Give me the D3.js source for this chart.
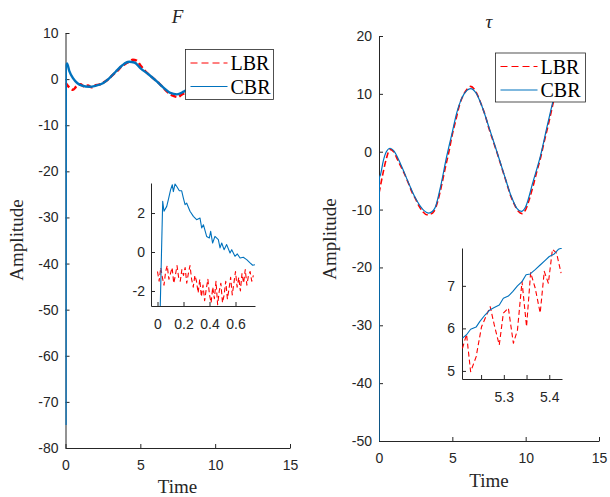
<!DOCTYPE html>
<html lang="en">
<head>
<meta charset="UTF-8">
<title>F and tau, LBR vs CBR</title>
<script src="https://d3js.org/d3.v7.min.js"></script>
<style>
    body { margin: 0; background: #fff; }
    .tick text { font-family: "Liberation Sans", Arial, sans-serif; font-size: 14px; fill: #262626; }
    .tick line, .domain { stroke: #262626; }
    .lbl { font-family: "Liberation Serif", serif; font-size: 19px; fill: #262626; }
    .leg { font-family: "Liberation Serif", serif; font-size: 20px; fill: #000; }
</style>
</head>
<body>
<svg width="610" height="497"></svg>
<script>
    // ---- F panel (main axes) ----
    const fTimeCBR = [0, 0.02, 0.1, 0.25, 0.5, 0.8, 1.1, 1.6, 2.0, 2.5, 2.9, 3.35, 3.8, 4.25, 4.6,
        5.0, 5.6, 6.1, 6.6, 7.0, 7.45, 7.9, 8.5, 9, 9.5, 10, 10.5, 11, 11.5, 12, 12.5];
    const fCBR = [-75, 2.6, 3.4, 1.8, 0.2, -0.9, -1.4, -1.65, -1.45, -0.9, 0.1, 1.6, 3.0, 3.75, 3.6,
        2.4, 0.9, -0.5, -2.0, -3.0, -3.3, -2.7, -1.5, 0.2, 1.8, 2.8, 3.2, 2.6, 1.2, -0.5, -1.8];
    // LBR sampled every 0.25 s
    const fLBR = [-0.8, -1.8, -2.3, -1.5, -1.1, -1.6, -1.4, -1.8, -1.3, -1.2, -0.8, -0.3, 0.4, 1.2, 1.9,
        2.8, 3.3, 3.8, 4.2, 4.0, 3.0, 2.0, 1.2, 0.5, -0.2, -0.9, -1.8, -2.6, -3.3, -3.7, -3.9, -3.4, -2.9,
        -2.3, -1.6, -0.8, 0.0, 0.8, 1.6, 2.2, 2.7, 3.0, 3.1, 2.9, 2.4, 1.8, 1.0, 0.2, -0.6, -1.3, -1.9];

    // ---- F panel (inset, first 0.75 s) ----
    const fInTimeCBR = [0.017, 0.04, 0.05, 0.071, 0.083, 0.101, 0.114, 0.122, 0.135, 0.147, 0.168, 0.186,
        0.199, 0.212, 0.224, 0.25, 0.276, 0.301, 0.327, 0.34, 0.353, 0.378, 0.399, 0.409, 0.424, 0.442,
        0.468, 0.481, 0.494, 0.512, 0.532, 0.558, 0.571, 0.596, 0.614, 0.635, 0.66, 0.686, 0.712, 0.732, 0.75];
    const fInCBR = [-4, 2.6, 2.09, 2.34, 2.68, 3.2, 3.45, 3.1, 3.49, 3.37, 3.14, 3.14,
        2.77, 2.43, 2.51, 2.09, 1.83, 1.66, 1.74, 1.23, 1.4, 0.8, 0.72, 1.06, 0.46, 0.8,
        0.63, 0.21, 0.46, 0.12, 0.38, -0.05, 0.12, -0.22, -0.1, -0.31, -0.27, -0.39, -0.56, -0.68, -0.65];
    // LBR sampled every 0.0125 s
    const fInLBR = [-1.0, -1.5, -0.8, -1.3, -1.7, -1.0, -0.7, -1.4, -1.1, -0.8, -1.6, -1.2, -0.7, -1.3,
        -1.5, -0.9, -1.2, -0.8, -1.6, -1.1, -0.7, -1.4, -1.8, -1.2,
        -1.5, -2.1, -1.4, -2.3, -1.7, -2.5, -1.9, -1.4, -2.2, -2.6, -1.8, -2.4, -1.5, -2.7, -2.0, -1.6,
        -2.6, -2.2, -1.5, -2.4,
        -1.9, -1.3, -2.2, -1.6, -1.0, -1.8, -1.3, -2.0, -1.1, -1.6, -0.9, -1.7, -1.2, -1.0, -1.5, -1.2];

    // ---- tau panel (main axes) ----
    const tTimeCBR = [0, 0.03, 0.1, 0.3, 0.5, 0.76, 1.0, 1.5, 2.0, 2.5, 3.0, 3.4, 3.8, 4.2, 4.6,
        5.0, 5.3, 5.6, 6.0, 6.25, 6.6, 7.0, 7.5, 8.0, 8.5, 9.0, 9.4, 9.7, 10.0, 10.5, 11.0, 11.5, 11.9, 12.3];
    const tCBR = [-50, -4.5, -4.0, -1.5, 0.0, 0.6, 0.2, -2.3, -5.3, -8.1, -10.0, -10.6, -9.8, -6.0, -1.0,
        3.4, 6.7, 9.0, 10.6, 10.9, 10.2, 8.0, 4.2, 0.3, -3.7, -7.6, -9.8, -10.3, -9.5, -5.2, -0.8, 4.8, 9.1, 12.5];
    const tLBR = [-7.2, -4.0, -1.2, 0.4, 0.0, -1.3, -2.6, -3.9, -5.4, -7.0, -8.2, -9.5, -10.4, -10.9, -10.8,
        -10.3, -8.6, -6.0, -3.0, -0.2, 3.0, 5.6, 8.2, 9.8, 10.8, 11.3, 10.8, 9.6, 8.0, 6.2, 4.0, 2.1, 0.2,
        -1.8, -3.8, -5.8, -7.8, -9.2, -10.3, -10.7, -10.0, -8.2, -6.0, -3.5, -1.2, 1.6, 4.2, 7.0, 9.8, 12.0, 14.0];

    // ---- tau panel (inset around t = 5.3) ----
    const tInTimeCBR = [5.209, 5.218, 5.227, 5.239, 5.247, 5.259, 5.27, 5.279, 5.29, 5.299, 5.31, 5.32,
        5.33, 5.34, 5.349, 5.358, 5.369, 5.38, 5.391, 5.4, 5.411, 5.42, 5.428];
    const tInCBR = [5.77, 5.85, 5.98, 6.03, 6.16, 6.32, 6.44, 6.49, 6.55, 6.71, 6.76, 6.87,
        7.0, 7.1, 7.26, 7.28, 7.38, 7.49, 7.6, 7.69, 7.75, 7.86, 7.89];
    const tInTimeLBR = [5.209, 5.218, 5.227, 5.239, 5.251, 5.27, 5.279, 5.29, 5.299, 5.31, 5.321,
        5.33, 5.34, 5.35, 5.359, 5.369, 5.38, 5.389, 5.398, 5.407, 5.416, 5.426];
    const tInLBR = [5.53, 5.86, 4.98, 5.33, 6.04, 6.51, 6.08, 5.61, 6.36, 6.48, 5.65,
        5.96, 7.1, 6.04, 7.31, 6.95, 6.36, 7.34, 7.06, 7.86, 7.77, 7.3];

    const legendNames = ["LBR", "CBR"];
    const red = "#ff0000", blue = "#0072bd", ink = "#262626";

    const svg = d3.select("svg");
    let clipId = 0;

    const fmtPlain = d => String(d);

    function axes(g, x, y, xTicks, yTicks, xFmt, yFmt, xPad, yPad) {
        g.append("g").attr("transform", `translate(0,${y.range()[0]})`)
            .call(d3.axisBottom(x).tickValues(xTicks).tickFormat(xFmt)
                .tickSizeInner(-4).tickSizeOuter(0).tickPadding(xPad));
        g.append("g").attr("transform", `translate(${x.range()[0]},0)`)
            .call(d3.axisLeft(y).tickValues(yTicks).tickFormat(yFmt)
                .tickSizeInner(-4).tickSizeOuter(0).tickPadding(yPad));
    }

    function plotArea(g, x, y) {
        const id = "clip" + (clipId++);
        g.append("clipPath").attr("id", id).append("rect")
            .attr("x", x.range()[0]).attr("y", y.range()[1])
            .attr("width", x.range()[1] - x.range()[0])
            .attr("height", y.range()[0] - y.range()[1]);
        return g.append("g").attr("clip-path", `url(#${id})`);
    }

    function drawLine(area, x, y, ts, vs, color, width, dash, curve) {
        const pts = ts.map((t, i) => [t, vs[i]]);
        area.append("path").datum(pts)
            .attr("d", d3.line().x(d => x(d[0])).y(d => y(d[1])).curve(curve))
            .attr("fill", "none").attr("stroke", color).attr("stroke-width", width)
            .attr("stroke-dasharray", dash).attr("stroke-linejoin", "round");
    }

    function legend(g, lx, ly, w, h) {
        g.append("rect").attr("x", lx).attr("y", ly).attr("width", w).attr("height", h)
            .attr("fill", "#fff").attr("stroke", ink).attr("stroke-width", 0.8);
        legendNames.forEach((name, i) => {
            const cy = ly + 13.5 + i * 23.5;
            g.append("line").attr("x1", lx + 5).attr("x2", lx + 42).attr("y1", cy).attr("y2", cy)
                .attr("stroke", i === 0 ? red : blue).attr("stroke-width", 1.1)
                .attr("stroke-dasharray", i === 0 ? "7,4" : null);
            g.append("text").attr("class", "leg").attr("x", lx + 45).attr("y", cy + 7).text(name);
        });
    }

    const lbrTimes = d3.range(fLBR.length).map(i => i * 0.25);

    // ================= left panel : F =================
    const gF = svg.append("g");
    const xF = d3.scaleLinear().domain([0, 15]).range([65.5, 290]);
    const yF = d3.scaleLinear().domain([-80, 10]).range([448, 33]);
    axes(gF, xF, yF, [0, 5, 10, 15], d3.range(-80, 11, 10), fmtPlain, fmtPlain, 12, 7);
    const aF = plotArea(gF, xF, yF);
    drawLine(aF, xF, yF, lbrTimes, fLBR, red, 2.4, "6,3", d3.curveMonotoneX);
    drawLine(aF, xF, yF, fTimeCBR, fCBR, blue, 2.4, null, d3.curveMonotoneX);
    gF.append("text").attr("class", "lbl").attr("x", 177.5).attr("y", 23)
        .attr("text-anchor", "middle").attr("font-style", "italic").text("F");
    gF.append("text").attr("class", "lbl").attr("transform", "translate(23,240) rotate(-90)")
        .attr("text-anchor", "middle").text("Amplitude");
    gF.append("text").attr("class", "lbl").attr("x", 177.5).attr("y", 493)
        .attr("text-anchor", "middle").text("Time");
    legend(gF, 185.5, 49.5, 88, 50);

    // F inset
    const gFi = svg.append("g");
    const xFi = d3.scaleLinear().domain([-0.05, 0.75]).range([151, 255]);
    const yFi = d3.scaleLinear().domain([-2.77, 3.54]).range([306, 183]);
    gFi.append("rect").attr("x", 151).attr("y", 183).attr("width", 104).attr("height", 123).attr("fill", "#fff");
    axes(gFi, xFi, yFi, [0, 0.2, 0.4, 0.6], [-2, 0, 2], fmtPlain, fmtPlain, 13, 6);
    const aFi = plotArea(gFi, xFi, yFi);
    drawLine(aFi, xFi, yFi, d3.range(fInLBR.length).map(i => i * 0.0125), fInLBR, red, 1.1, "5,3", d3.curveLinear);
    drawLine(aFi, xFi, yFi, fInTimeCBR, fInCBR, blue, 1.1, null, d3.curveLinear);

    // ================= right panel : tau =================
    const gT = svg.append("g");
    const xT = d3.scaleLinear().domain([0, 15]).range([379, 599]);
    const yT = d3.scaleLinear().domain([-50, 20]).range([441, 36]);
    axes(gT, xT, yT, [0, 5, 10, 15], d3.range(-50, 21, 10), fmtPlain, fmtPlain, 12, 7);
    const aT = plotArea(gT, xT, yT);
    drawLine(aT, xT, yT, lbrTimes, tLBR, red, 1.6, "6,3", d3.curveMonotoneX);
    drawLine(aT, xT, yT, tTimeCBR, tCBR, blue, 1.2, null, d3.curveMonotoneX);
    gT.append("text").attr("class", "lbl").attr("x", 489).attr("y", 28)
        .attr("text-anchor", "middle").attr("font-style", "italic").text("τ");
    gT.append("text").attr("class", "lbl").attr("transform", "translate(336,239) rotate(-90)")
        .attr("text-anchor", "middle").text("Amplitude");
    gT.append("text").attr("class", "lbl").attr("x", 489).attr("y", 487)
        .attr("text-anchor", "middle").text("Time");
    legend(gT, 495.5, 53, 90, 49);

    // tau inset
    const gTi = svg.append("g");
    const xTi = d3.scaleLinear().domain([5.208, 5.428]).range([462, 562]);
    const yTi = d3.scaleLinear().domain([4.81, 7.89]).range([379, 248]);
    gTi.append("rect").attr("x", 462).attr("y", 248).attr("width", 100).attr("height", 131).attr("fill", "#fff");
    axes(gTi, xTi, yTi, [5.25, 5.3, 5.35, 5.4], [5, 6, 7],
        d => (Math.abs(d * 10 - Math.round(d * 10)) < 1e-6 ? d.toFixed(1) : ""), fmtPlain, 13, 7);
    const aTi = plotArea(gTi, xTi, yTi);
    drawLine(aTi, xTi, yTi, tInTimeLBR, tInLBR, red, 1.1, "5,3", d3.curveLinear);
    drawLine(aTi, xTi, yTi, tInTimeCBR, tInCBR, blue, 1.1, null, d3.curveLinear);
</script>
</body>
</html>
